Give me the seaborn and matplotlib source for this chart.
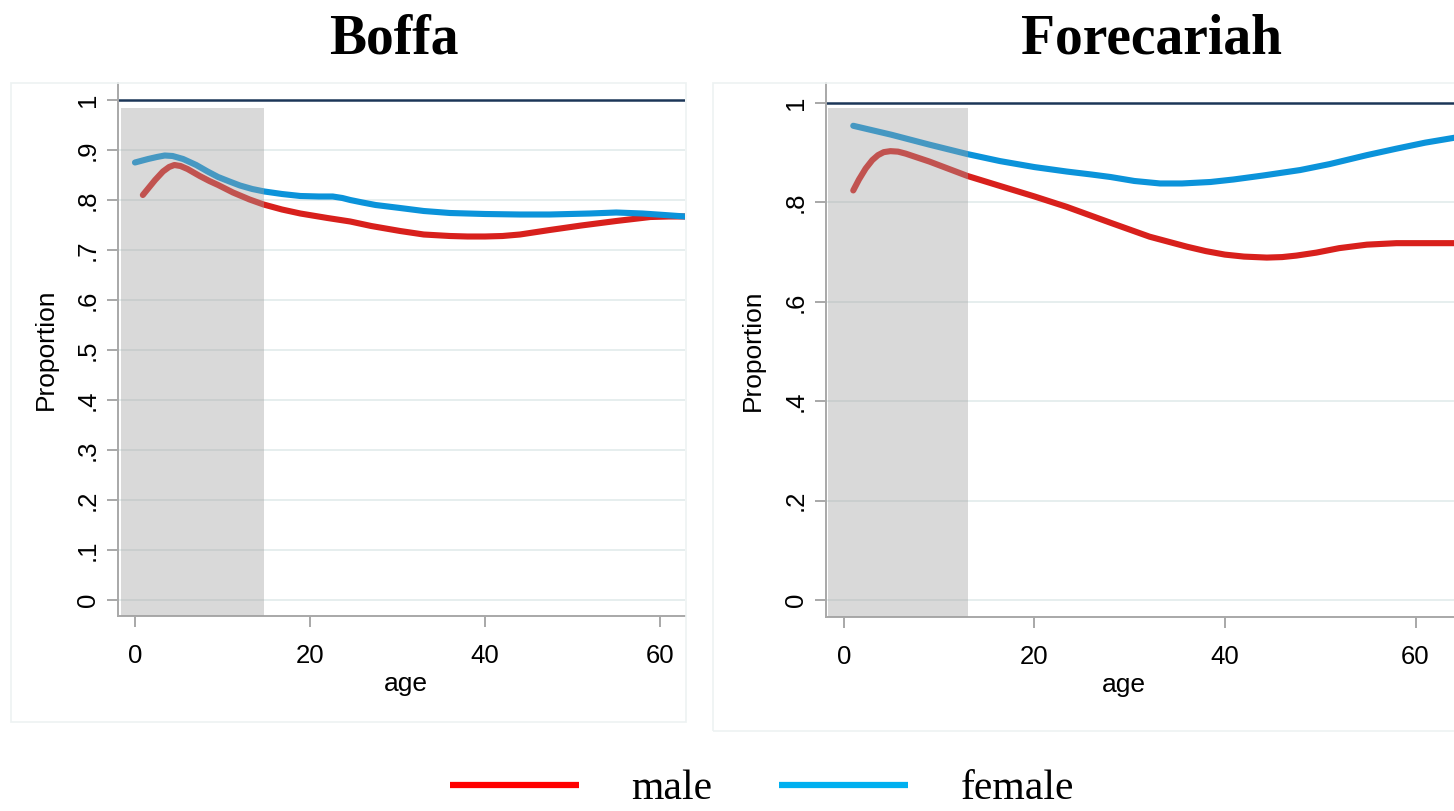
import matplotlib
matplotlib.use("Agg")
import matplotlib.pyplot as plt
from matplotlib.lines import Line2D
from matplotlib.patches import Rectangle
import pandas as pd
import seaborn as sns

# ---- data: smoothed proportion by age, per prefecture and sex ----
boffa_female_age = [0, 1.5, 2.5, 3.4, 4.3, 5.5, 7, 8.3, 9.5, 10.8, 12, 13.4, 14.8, 16.8, 18.9,
                    21, 22.6, 23.7, 24.6, 26, 27.5, 30.3, 33, 36, 40, 44, 47.4, 52, 55, 58,
                    60.5, 62.9]
boffa_female_val = [0.875, 0.882, 0.886, 0.889, 0.888, 0.882, 0.870, 0.857, 0.846, 0.837,
                    0.829, 0.822, 0.817, 0.812, 0.808, 0.807, 0.807, 0.804, 0.800, 0.795,
                    0.790, 0.784, 0.778, 0.774, 0.772, 0.771, 0.771, 0.773, 0.775, 0.773,
                    0.770, 0.767]
boffa_male_age = [0.9, 1.6, 2.3, 3.2, 3.9, 4.5, 5.2, 6, 7.4, 8.5, 9.5, 11.2, 13.1, 14.7, 16.8,
                  18.9, 22, 24.6, 27, 30.3, 33, 36, 38, 40, 42, 44, 47.4, 51, 55, 58.9, 61,
                  62.9]
boffa_male_val = [0.810, 0.825, 0.840, 0.857, 0.866, 0.870, 0.868, 0.862, 0.848, 0.838, 0.830,
                  0.815, 0.801, 0.791, 0.781, 0.773, 0.764, 0.757, 0.748, 0.738, 0.731, 0.728,
                  0.727, 0.727, 0.728, 0.731, 0.740, 0.749, 0.758, 0.766, 0.767, 0.767]

forec_female_age = [1, 5, 9, 13, 16.4, 20, 23.4, 26, 28, 30.5, 33.2, 35.5, 38.5, 40.9, 44,
                    47.9, 51, 54.9, 58, 61, 64.1]
forec_female_val = [0.954, 0.936, 0.916, 0.897, 0.883, 0.871, 0.862, 0.856, 0.851, 0.843,
                    0.838, 0.838, 0.841, 0.846, 0.854, 0.865, 0.877, 0.895, 0.908, 0.920,
                    0.930]
forec_male_age = [1, 1.6, 2.3, 3, 3.6, 4.2, 4.9, 5.7, 6.5, 9, 13, 16.4, 20, 23.4, 28, 32.1,
                  36, 38, 40, 42, 44.4, 46, 47.5, 49.6, 52, 54.9, 58, 61, 64.1]
forec_male_val = [0.824, 0.846, 0.868, 0.885, 0.895, 0.901, 0.903, 0.902, 0.898, 0.882, 0.853,
                  0.833, 0.812, 0.791, 0.759, 0.731, 0.711, 0.702, 0.695, 0.691, 0.689, 0.690,
                  0.693, 0.699, 0.708, 0.715, 0.718, 0.718, 0.718]

# shaded child-age band (age range, top value)
boffa_band = (-1.6, 14.7, 0.985)
forec_band = (-1.6, 13.0, 0.990)

boffa_yticks = [0, 0.1, 0.2, 0.3, 0.4, 0.5, 0.6, 0.7, 0.8, 0.9, 1.0]
boffa_ylabels = ["0", ".1", ".2", ".3", ".4", ".5", ".6", ".7", ".8", ".9", "1"]
forec_yticks = [0, 0.2, 0.4, 0.6, 0.8, 1.0]
forec_ylabels = ["0", ".2", ".4", ".6", ".8", "1"]
xticks = [0, 20, 40, 60]

sexes = ["male", "female"]
line_colors = {"male": "#d8201c", "female": "#0b93da"}
legend_colors = {"male": "#ff0000", "female": "#00b0f0"}


def frame(age_m, val_m, age_f, val_f):
    return pd.concat([
        pd.DataFrame({"age": age_m, "Proportion": val_m, "sex": "male"}),
        pd.DataFrame({"age": age_f, "Proportion": val_f, "sex": "female"}),
    ], ignore_index=True)


boffa = frame(boffa_male_age, boffa_male_val, boffa_female_age, boffa_female_val)
forec = frame(forec_male_age, forec_male_val, forec_female_age, forec_female_val)

sns.set_theme(style="white")
plt.rcParams["font.family"] = ["Liberation Sans", "DejaVu Sans"]
plt.rcParams["text.color"] = "black"
plt.rcParams["axes.labelcolor"] = "black"

W, H = 1454, 811
fig = plt.figure(figsize=(W / 100, H / 100), dpi=100)


def px_axes(x0, y0, x1, y1):
    return fig.add_axes([x0 / W, 1 - y1 / H, (x1 - x0) / W, (y1 - y0) / H])


# light outer panel frames
for (x0, y0, x1, y1) in [(11, 83, 686, 722), (713, 83, 1462, 731)]:
    fig.patches.append(Rectangle((x0 / W, 1 - y1 / H), (x1 - x0) / W, (y1 - y0) / H,
                                 transform=fig.transFigure, fill=False,
                                 edgecolor="#edf2f2", lw=1.2, zorder=0))

ax1 = px_axes(118, 83, 685, 616)
ax2 = px_axes(826, 83, 1454, 617)

panels = [
    (ax1, boffa, boffa_band, boffa_yticks, boffa_ylabels, (-1.94, 62.86), (-0.032, 1.034),
     0.508, -0.106),
    (ax2, forec, forec_band, forec_yticks, forec_ylabels, (-1.86, 64.04), (-0.0336, 1.040),
     0.4745, -0.098),
]

for ax, df, band, yt, yl, xlim, ylim, xlab_x, ylab_x in panels:
    ax.set_xlim(*xlim)
    ax.set_ylim(*ylim)
    for y in yt[:-1]:
        ax.axhline(y, color="#e4eded", lw=1.3, zorder=1)
    ax.axhline(1.0, color="#1c3658", lw=1.8, zorder=2)

    sns.lineplot(data=df, x="age", y="Proportion", hue="sex", hue_order=sexes,
                 palette=line_colors, estimator=None, sort=False, lw=4.4,
                 legend=False, ax=ax, zorder=3)
    for ln in ax.lines[-2:]:
        ln.set_solid_joinstyle("round")

    ax.fill_between([band[0], band[1]], ylim[0], band[2], color="#a0a0a0", alpha=0.4,
                    lw=0, zorder=4)

    ax.set_yticks(yt)
    ax.set_yticklabels(yl, rotation=90, va="center")
    ax.set_xticks(xticks)
    ax.tick_params(axis="both", which="major", labelsize=18.5, colors="#9a9a9a",
                   labelcolor="black", length=8, width=1.2, direction="out")
    ax.tick_params(axis="y", pad=5, left=True)
    ax.tick_params(axis="x", pad=12, bottom=True)
    ax.set_xlabel("age", fontsize=19, color="black")
    ax.set_ylabel("Proportion", fontsize=19, color="black")
    ax.xaxis.set_label_coords(xlab_x, -0.105)
    ax.yaxis.set_label_coords(ylab_x, 0.5)
    for s in ["top", "right"]:
        ax.spines[s].set_visible(False)
    for s in ["left", "bottom"]:
        ax.spines[s].set_color("#a8a8a8")
        ax.spines[s].set_linewidth(1.4)
    ax.set_facecolor("white")

# panel titles
fig.text(394 / W, 1 - 54 / H, "Boffa", ha="center", va="baseline", fontsize=40,
         fontweight="bold", color="black", family=["Liberation Serif", "DejaVu Serif"])
fig.text(1151 / W, 1 - 54 / H, "Forecariah", ha="center", va="baseline", fontsize=40,
         fontweight="bold", color="black", family=["Liberation Serif", "DejaVu Serif"])

# shared legend
handles = [Line2D([], [], color=legend_colors[s], lw=4.5, solid_capstyle="butt") for s in sexes]
leg = fig.legend(handles, sexes, loc="center", bbox_to_anchor=(762 / W, 1 - 789 / H), ncol=2,
                 frameon=False, handlelength=3.1, handletextpad=1.25, columnspacing=1.6,
                 borderpad=0.1,
                 prop={"family": ["Liberation Serif", "DejaVu Serif"], "size": 30})
for t in leg.get_texts():
    t.set_color("black")

fig.savefig("out.png", dpi=100)
